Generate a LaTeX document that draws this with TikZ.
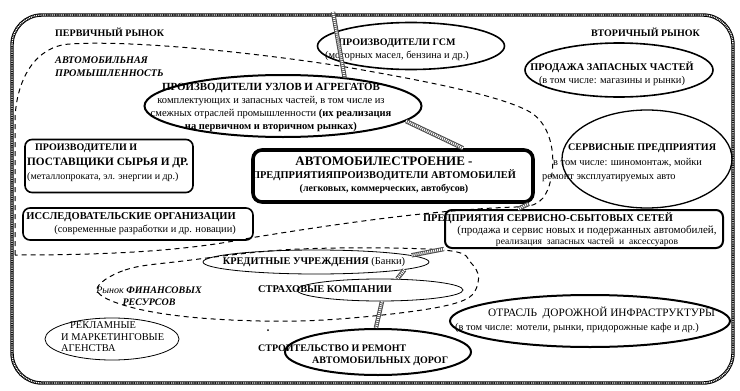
\documentclass[tikz,border=0pt]{standalone}
\usepackage{fontspec}
\setmainfont{Liberation Serif}
\usepackage{tikz}
\usetikzlibrary{shapes.geometric,positioning,calc}

\newcommand{\hdfont}{\fontsize{10}{13}\selectfont\bfseries}
\newcommand{\fsz}[1]{\fontsize{#1}{13}\selectfont}

\begin{document}
\begin{tikzpicture}[x=1pt, y=-1pt,
  font=\fontsize{10.4}{13}\selectfont,
  frame/.style={line width=3.4pt, draw=black, postaction={draw=white, line width=1.4pt, dash pattern=on 0.9pt off 0.9pt}},
  link/.style={line width=4.4pt, draw=black!70, postaction={draw=white, line width=2.4pt, dash pattern=on 1pt off 1pt}},
  area/.style={line width=1pt, dash pattern=on 5pt off 4pt},
  oval/.style={ellipse, draw, inner sep=0pt, line width=1.6pt},
  thin oval/.style={oval, line width=0.8pt},
  card/.style={rectangle, draw, rounded corners=7pt, inner sep=0pt, line width=1.6pt},
  txt/.style={inner sep=0pt, align=center},
]
\useasboundingbox (0,0) rectangle (740,391);
% outer frame
\draw[frame, rounded corners=30pt] (12,15) rectangle (733,383);
\node[txt, anchor=west, font=\hdfont] (perv) at (55,32) {ПЕРВИЧНЫЙ РЫНОК};
\node[txt, anchor=east, font=\hdfont] (vtor) at (700,32) {ВТОРИЧНЫЙ РЫНОК};
% automotive industry area
\draw[area] (15,255) -- (15,120) .. controls (16,80) and (35,46) .. (70,44)
  .. controls (130,40) and (250,52) .. (340,66)
  .. controls (420,80) and (500,95) .. (530,112)
  .. controls (560,130) and (556,182) .. (543,198)
  .. controls (535,207) and (525,207) .. (515,207)
  .. controls (430,210) and (330,225) .. (250,238)
  .. controls (190,250) and (120,255) .. cycle;
\node[txt, anchor=north west, align=left, font=\fontsize{10.2}{13}\selectfont\bfseries\itshape] (avto) at (55,57) {АВТОМОБИЛЬНАЯ\\ПРОМЫШЛЕННОСТЬ};
% financial market area
\draw[area] plot[smooth cycle, tension=0.6] coordinates {(97,290) (125,270) (183,261) (300,249) (443,250) (472,264) (478,283) (462,301) (400,313) (300,321) (200,318) (130,307)};
\node[txt, font=\fontsize{10}{12}\selectfont\itshape] (fint) at (149,296) {Рынок \textbf{ФИНАНСОВЫХ}\\\textbf{РЕСУРСОВ}};
% primary market
\node[oval, minimum width=187pt, minimum height=47pt] (gsm) at (411,46) {};
\node[txt] (gsmt) at (397,50) {{\hdfont ПРОИЗВОДИТЕЛИ ГСМ}\\(моторных масел, бензина и др.)};
\node[oval, line width=2pt, minimum width=277pt, minimum height=62pt] (units) at (283,106) {};
\node[txt, font=\fontsize{10.5}{13}\selectfont] (unitst) at (271,108) {{\fsz{10.9}\bfseries ПРОИЗВОДИТЕЛИ УЗЛОВ И АГРЕГАТОВ}\\комплектующих и запасных частей, в том числе из\\смежных отраслей промышленности \textbf{(их реализация}\\\textbf{на первичном и вторичном рынках)}};
\node[card, minimum width=168pt, minimum height=53pt] (raw) at (109,166) {};
\node[txt, align=left, anchor=west, font=\fontsize{10}{14.5}\selectfont] (rawt) at (27,163) {\hspace*{8pt}{\fsz{10}\bfseries ПРОИЗВОДИТЕЛИ И}\\{\fsz{11.3}\bfseries ПОСТАВЩИКИ СЫРЬЯ И ДР.}\\(металлопроката, эл. энергии и др.)};
\node[card, minimum width=230pt, minimum height=32pt] (res) at (138,224) {};
\node[txt, align=right, anchor=east] (rest) at (236,224) {{\fsz{10.5}\bfseries ИССЛЕДОВАТЕЛЬСКИЕ ОРГАНИЗАЦИИ}\\(современные разработки и др. новации)};
\node[card, line width=3.6pt, rounded corners=9pt, minimum width=280pt, minimum height=52pt] (auto) at (393,176) {};
\node[txt, font=\fontsize{10}{13}\selectfont\bfseries] (autot) at (384,175) {{\fontsize{13}{14}\selectfont АВТОМОБИЛЕСТРОЕНИЕ -}\\{\fsz{10.4}ПРЕДПРИЯТИЯПРОИЗВОДИТЕЛИ АВТОМОБИЛЕЙ}\\(легковых, коммерческих, автобусов)};
% secondary market
\node[oval, minimum width=188pt, minimum height=54pt] (prod) at (619,70) {};
\node[txt] (prodt) at (612,74) {{\fsz{10.3}\bfseries ПРОДАЖА ЗАПАСНЫХ ЧАСТЕЙ}\\(в том числе: магазины и рынки)};
\node[oval, line width=1.3pt, minimum width=170pt, minimum height=98pt] (serv) at (647,159) {};
\node[txt, align=left, anchor=west, font=\fontsize{10.4}{14.5}\selectfont] (servt) at (542,163) {\hspace*{26pt}{\fsz{10.1}\bfseries СЕРВИСНЫЕ ПРЕДПРИЯТИЯ}\\\hspace*{11pt}в том числе: шиномонтаж, мойки\\ремонт эксплуатируемых авто};
\node[card, line width=2pt, minimum width=278pt, minimum height=38pt] (sbyt) at (584,229) {};
\node[txt, font=\fontsize{10.4}{13}\selectfont\bfseries] (sbytt) at (548,218) {ПРЕДПРИЯТИЯ СЕРВИСНО-СБЫТОВЫХ СЕТЕЙ};
\node[txt, font=\fontsize{11}{11}\selectfont] (sbytb) at (587,236) {(продажа и сервис новых и подержанных автомобилей,\\{\fsz{9.6}реализация~ запасных частей~ и~ аксессуаров}};
% finance and others
\node[thin oval, minimum width=226pt, minimum height=24pt] (kred) at (316,262) {};
\node[txt] (kredt) at (314,262) {{\fsz{10.3}\bfseries КРЕДИТНЫЕ УЧРЕЖДЕНИЯ} (Банки)};
\node[thin oval, minimum width=166pt, minimum height=22pt] (strah) at (380,290) {};
\node[txt, anchor=west, font=\fontsize{10.4}{13}\selectfont\bfseries] (straht) at (258,289) {СТРАХОВЫЕ КОМПАНИИ};
\node[thin oval, minimum width=134pt, minimum height=42pt] (rekl) at (112,339) {};
\node[txt, align=left, anchor=west, font=\fontsize{10.4}{11.5}\selectfont] (reklt) at (61,337) {\hspace*{9pt}РЕКЛАМНЫЕ\\И МАРКЕТИНГОВЫЕ\\АГЕНСТВА};
\fill (268,330) circle (1pt);
\node[oval, line width=2pt, minimum width=186pt, minimum height=46pt] (road) at (378,352) {};
\node[txt, align=left, anchor=west, font=\fontsize{10}{12}\selectfont\bfseries] (roadt) at (258,355) {СТРОИТЕЛЬСТВО И РЕМОНТ\\\hspace*{54pt}АВТОМОБИЛЬНЫХ ДОРОГ};
\node[oval, line width=2pt, minimum width=280pt, minimum height=52pt] (infra) at (590,321) {};
\node[txt, align=left, anchor=west, font=\fontsize{10.4}{14}\selectfont] (infrat) at (455,320) {\hspace*{33pt}{\fsz{11.3}ОТРАСЛЬ~ ДОРОЖНОЙ ИНФРАСТРУКТУРЫ}\\(в том числе: мотели, рынки, придорожные кафе и др.)};
% links
\coordinate (gsmtop) at (333,12);
\draw[link] (gsmtop) -- (units.25);
\draw[link] (units.-7) -- ([xshift=70pt]auto.north);
\draw[link] ([xshift=-66pt]sbyt.north) -- ([xshift=-6pt]auto.south east);
\draw[link] (sbyt.south west) -- (kred.4);
\draw[link] (kred.-5) -- (strah.33);
\draw[link] (strah.-80) -- (road.95);
\end{tikzpicture}
\end{document}
